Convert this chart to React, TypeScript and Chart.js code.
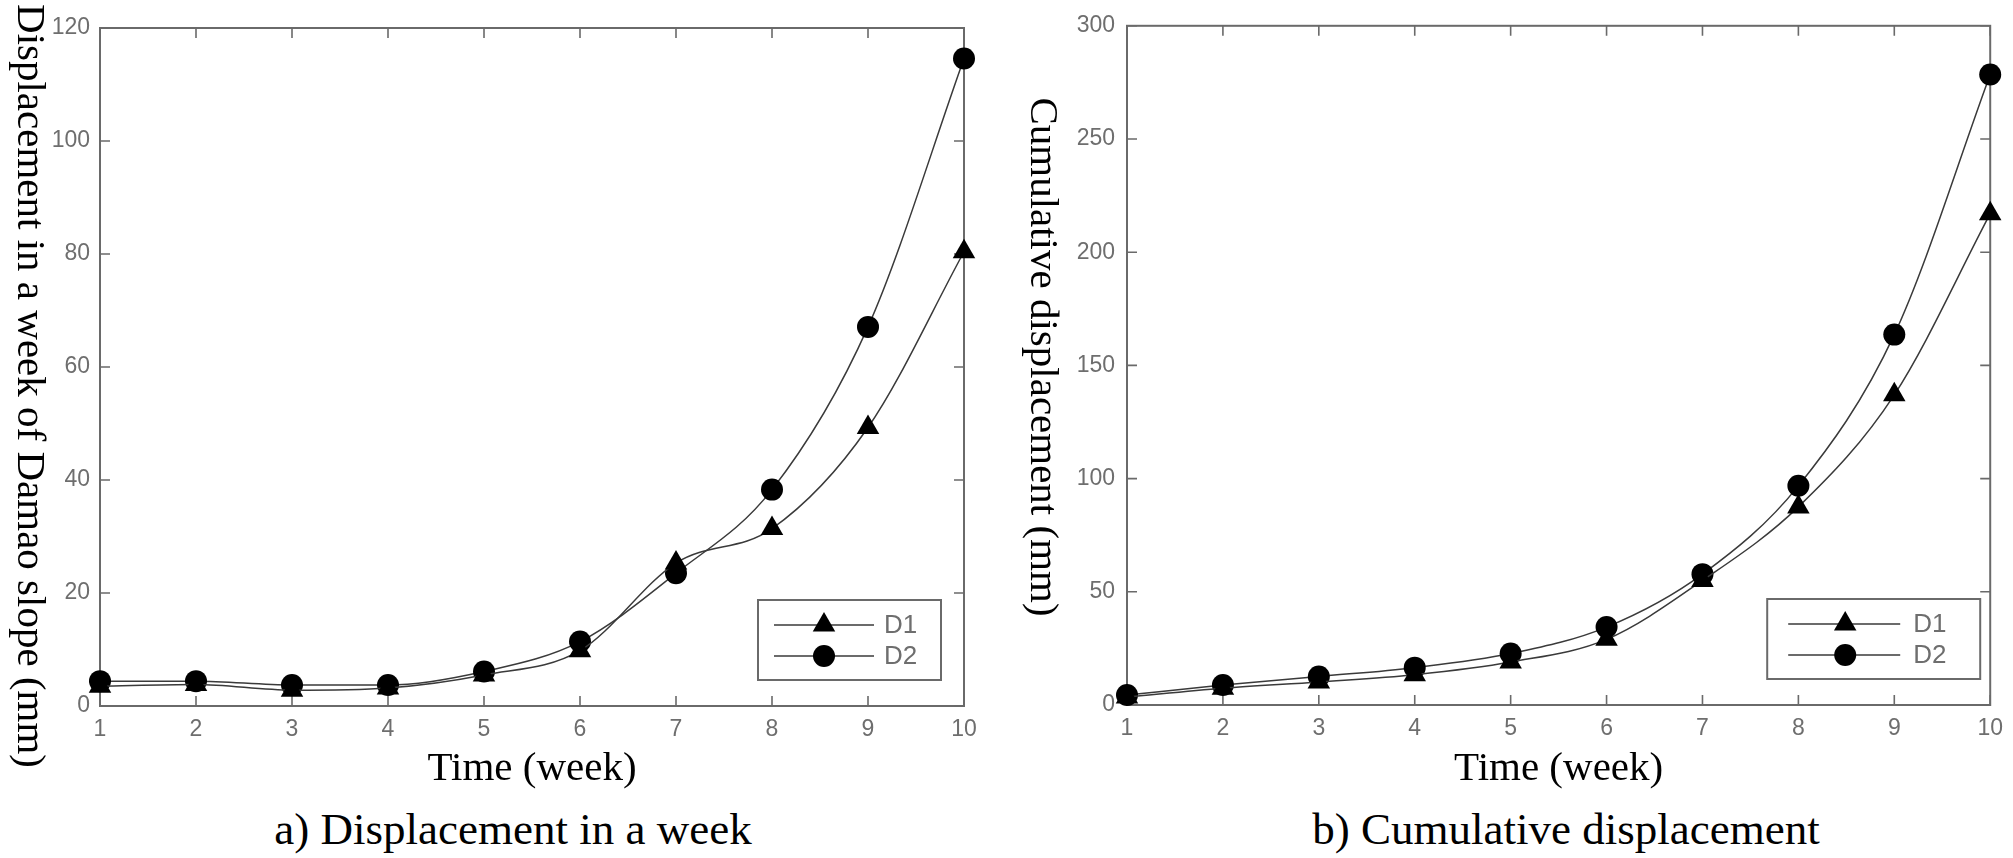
import React, { useEffect, useRef } from 'react';
import { Chart, registerables } from 'chart.js';

Chart.register(...registerables);

const weeks = ['1', '2', '3', '4', '5', '6', '7', '8', '9', '10'];

const weeklyD1 = [3.5, 3.8, 2.8, 3.2, 5.5, 9.8, 25.3, 31.4, 49.3, 80.4];
const weeklyD2 = [4.4, 4.4, 3.7, 3.7, 6.1, 11.4, 23.5, 38.3, 67.1, 114.6];

const cumulativeD1 = [3.5, 7.4, 10.2, 13.4, 19.0, 29.0, 55.0, 87.5, 137.0, 217.0];
const cumulativeD2 = [4.4, 8.8, 12.6, 16.5, 22.7, 34.4, 57.8, 96.8, 163.6, 278.5];

const seriesNames = ['D1', 'D2'];

const SERIF = '"Liberation Serif", "Times New Roman", serif';
const SANS = '"Liberation Sans", Arial, sans-serif';
const TICK_COLOR = '#6e6e6e';
const FRAME_COLOR = '#6a6a6a';
const LINE_COLOR = '#3a3a3a';

function drawTriangle(ctx: CanvasRenderingContext2D, x: number, y: number, r: number) {
  ctx.beginPath();
  for (let i = 0; i < 3; i++) {
    const a = (i * 2 * Math.PI) / 3;
    const px = x + Math.sin(a) * r;
    const py = y - Math.cos(a) * r;
    if (i === 0) ctx.moveTo(px, py);
    else ctx.lineTo(px, py);
  }
  ctx.closePath();
  ctx.fill();
}

function drawCircle(ctx: CanvasRenderingContext2D, x: number, y: number, r: number) {
  ctx.beginPath();
  ctx.arc(x, y, r, 0, Math.PI * 2);
  ctx.fill();
}

const matlabPlugin = {
  id: 'matlabFrame',
  beforeDatasetsDraw(chart: any) {
    const { ctx, chartArea } = chart;
    const { left, right, top, bottom } = chartArea;
    ctx.save();
    ctx.strokeStyle = FRAME_COLOR;
    ctx.lineWidth = 2;
    ctx.strokeRect(left, top, right - left, bottom - top);
    ctx.lineWidth = 1.6;
    const xs = chart.scales.x;
    const ys = chart.scales.y;
    const tl = 10;
    xs.ticks.forEach((_t: any, i: number) => {
      const px = xs.getPixelForTick(i);
      ctx.beginPath();
      ctx.moveTo(px, bottom);
      ctx.lineTo(px, bottom - tl);
      ctx.moveTo(px, top);
      ctx.lineTo(px, top + tl);
      ctx.stroke();
    });
    ys.ticks.forEach((t: any) => {
      const py = ys.getPixelForValue(t.value);
      ctx.beginPath();
      ctx.moveTo(left, py);
      ctx.lineTo(left + tl, py);
      ctx.moveTo(right, py);
      ctx.lineTo(right - tl, py);
      ctx.stroke();
    });
    ctx.restore();
  },
  afterDraw(chart: any, _args: any, opts: any) {
    const { ctx, chartArea } = chart;
    // y-axis title, rotated clockwise (reads top to bottom)
    const T = opts.yTitle;
    if (T) {
      ctx.save();
      ctx.translate(T.baselineX, T.centerY);
      ctx.rotate(Math.PI / 2);
      ctx.fillStyle = '#000000';
      ctx.font = `${T.size}px ${SERIF}`;
      ctx.textAlign = 'center';
      ctx.textBaseline = 'alphabetic';
      ctx.fillText(T.text, 0, 0);
      ctx.restore();
    }
    const L = opts.legend;
    if (!L) return;
    const bx = chartArea.right - L.rightGap - L.width;
    const by = chartArea.bottom - L.bottomGap - L.height;
    ctx.save();
    ctx.fillStyle = '#ffffff';
    ctx.fillRect(bx, by, L.width, L.height);
    ctx.strokeStyle = FRAME_COLOR;
    ctx.lineWidth = 2;
    ctx.strokeRect(bx, by, L.width, L.height);
    const rows = [by + L.row1, by + L.row2];
    chart.data.datasets.forEach((ds: any, i: number) => {
      const y = rows[i];
      ctx.strokeStyle = LINE_COLOR;
      ctx.lineWidth = 1.5;
      ctx.beginPath();
      ctx.moveTo(bx + L.lineStart, y);
      ctx.lineTo(bx + L.lineEnd, y);
      ctx.stroke();
      ctx.fillStyle = '#000000';
      const mx = bx + L.marker;
      if (ds.pointStyle === 'triangle') drawTriangle(ctx, mx, y, 13);
      else drawCircle(ctx, mx, y, 11);
      ctx.fillStyle = TICK_COLOR;
      ctx.font = `26px ${SANS}`;
      ctx.textBaseline = 'middle';
      ctx.textAlign = 'left';
      ctx.fillText(ds.label, bx + L.text, y + 1);
    });
    ctx.restore();
  },
};

type ChartSpec = {
  d1: number[];
  d2: number[];
  yMax: number;
  yStep: number;
  yTitle: any;
  yWidth: number;
  yTickPad: number;
  xHeight: number;
  padding: { left: number; right: number; top: number; bottom: number };
  legend: any;
};

function buildConfig(spec: ChartSpec): any {
  const common = {
    borderColor: LINE_COLOR,
    backgroundColor: '#000000',
    pointBackgroundColor: '#000000',
    pointBorderColor: '#000000',
    borderWidth: 1.5,
    cubicInterpolationMode: 'monotone',
    clip: false,
    pointBorderWidth: 0,
  };
  return {
    type: 'line',
    data: {
      labels: weeks,
      datasets: [
        { ...common, label: seriesNames[0], data: spec.d1, pointStyle: 'triangle', pointRadius: 13 },
        { ...common, label: seriesNames[1], data: spec.d2, pointStyle: 'circle', pointRadius: 11 },
      ],
    },
    options: {
      animation: false,
      responsive: true,
      maintainAspectRatio: false,
      events: [],
      layout: { padding: spec.padding },
      plugins: {
        legend: { display: false },
        tooltip: { enabled: false },
        matlabFrame: { legend: spec.legend, yTitle: spec.yTitle },
      },
      scales: {
        x: {
          type: 'category',
          offset: false,
          grid: { display: false, drawTicks: false },
          border: { display: false },
          ticks: {
            color: TICK_COLOR,
            font: { family: SANS, size: 23 },
            padding: 10,
            maxRotation: 0,
            autoSkip: false,
          },
          title: {
            display: true,
            text: 'Time (week)',
            color: '#000000',
            font: { family: SERIF, size: 41 },
            padding: { top: 0, bottom: 6 },
          },
          afterFit: (s: any) => {
            s.height = spec.xHeight;
          },
        },
        y: {
          type: 'linear',
          min: 0,
          max: spec.yMax,
          grid: { display: false, drawTicks: false },
          border: { display: false },
          ticks: {
            stepSize: spec.yStep,
            color: TICK_COLOR,
            font: { family: SANS, size: 23 },
            padding: spec.yTickPad,
          },
          title: { display: false },
          afterFit: (s: any) => {
            s.width = spec.yWidth;
          },
        },
      },
    },
    plugins: [matlabPlugin],
  };
}

function ChartBox(props: { spec: ChartSpec; style: React.CSSProperties }) {
  const ref = useRef<HTMLCanvasElement | null>(null);
  useEffect(() => {
    if (!ref.current) return;
    const chart = new Chart(ref.current, buildConfig(props.spec));
    return () => chart.destroy();
  }, []);
  return (
    <div style={{ position: 'absolute', ...props.style }}>
      <canvas ref={ref} />
    </div>
  );
}

const leftSpec: ChartSpec = {
  d1: weeklyD1,
  d2: weeklyD2,
  yMax: 120,
  yStep: 20,
  yTitle: { text: 'Displacement in a week of Damao slope (mm)', baselineX: 18, centerY: 386, size: 41 },
  yWidth: 100,
  yTickPad: 10,
  xHeight: 94,
  padding: { left: 0, right: 46, top: 28, bottom: 0 },
  legend: {
    rightGap: 23,
    bottomGap: 26,
    width: 183,
    height: 80,
    row1: 25,
    row2: 56,
    lineStart: 16,
    lineEnd: 116,
    marker: 66,
    text: 126,
  },
};

const rightSpec: ChartSpec = {
  d1: cumulativeD1,
  d2: cumulativeD2,
  yMax: 300,
  yStep: 50,
  yTitle: { text: 'Cumulative displacement (mm)', baselineX: 21, centerY: 357, size: 41 },
  yWidth: 117,
  yTickPad: 12,
  xHeight: 95,
  padding: { left: 0, right: 20, top: 15, bottom: 0 },
  legend: {
    rightGap: 10,
    bottomGap: 26,
    width: 213,
    height: 80,
    row1: 25,
    row2: 56,
    lineStart: 21,
    lineEnd: 133,
    marker: 78,
    text: 146,
  },
};

const captionStyle: React.CSSProperties = {
  position: 'absolute',
  top: 807,
  fontFamily: SERIF,
  fontSize: 45,
  lineHeight: '45px',
  color: '#000',
  whiteSpace: 'nowrap',
  transform: 'translateX(-50%)',
};

export default function App() {
  return (
    <div
      style={{
        position: 'absolute',
        left: 0,
        top: 0,
        width: 2013,
        height: 858,
        background: '#ffffff',
        overflow: 'hidden',
      }}
    >
      <ChartBox spec={leftSpec} style={{ left: 0, top: 0, width: 1010, height: 800 }} />
      <ChartBox spec={rightSpec} style={{ left: 1010, top: 0, width: 1003, height: 800 }} />
      <div style={{ ...captionStyle, left: 513 }}>a) Displacement in a week</div>
      <div style={{ ...captionStyle, left: 1566 }}>b) Cumulative displacement</div>
    </div>
  );
}
